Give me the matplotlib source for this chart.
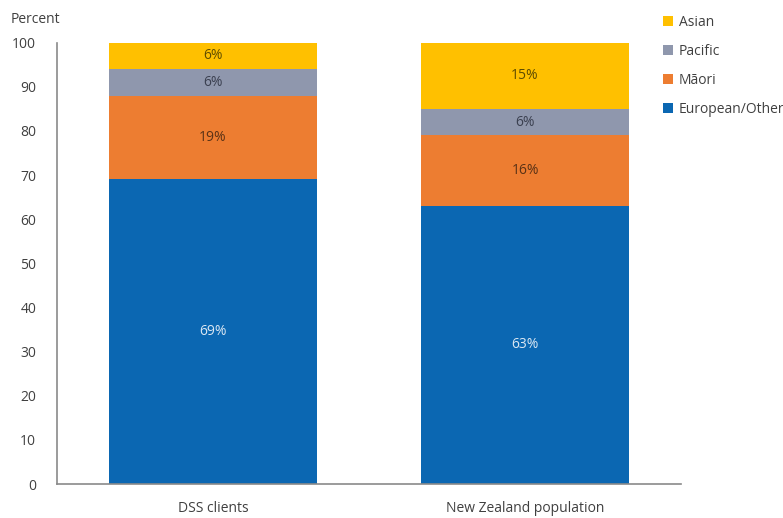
import matplotlib.pyplot as plt
import numpy as np

plt.rcParams['font.family'] = ['Open Sans', 'DejaVu Sans']

# data
categories = ['DSS clients', 'New Zealand population']
groups = ['European/Other', 'Māori', 'Pacific', 'Asian']
european = [69, 63]
maori = [19, 16]
pacific = [6, 6]
asian = [6, 15]

colors = ['#0B67B2', '#ED7D31', '#8F97AD', '#FFC000']
label_colors = ['#dbe7f3', '#5a3216', '#3b4050', '#5e4c00']

fig = plt.figure(figsize=(7.83, 5.18), dpi=100)
ax = fig.add_axes([0.0728, 0.0656, 0.797, 0.852])

x = np.arange(len(categories))
series = [european, maori, pacific, asian]
bottom = np.zeros(len(categories))
handles = []
for vals, name, c, lc in zip(series, groups, colors, label_colors):
    vals = np.array(vals, dtype=float)
    bars = ax.bar(x, vals, width=0.665, bottom=bottom, color=c, label=name)
    handles.append(bars)
    for xi, b, v in zip(x, bottom, vals):
        ax.text(xi, b + v/2, f'{int(v)}%', ha='center', va='center',
                fontsize=10, color=lc)
    bottom += vals

ax.set_xlim(-0.5, 1.5)
ax.set_ylim(0, 100)
ax.set_yticks(np.arange(0, 101, 10))
ax.set_xticks(x)
ax.set_xticklabels(categories)
ax.tick_params(axis='both', length=0, labelsize=10, colors='#404040')
ax.tick_params(axis='x', pad=12)
ax.tick_params(axis='y', pad=15)

for s in ['top', 'right']:
    ax.spines[s].set_visible(False)
for s in ['left', 'bottom']:
    ax.spines[s].set_color('#8a8a8a')
    ax.spines[s].set_linewidth(1.2)

fig.text(0.014, 0.962, 'Percent', fontsize=10, color='#404040', va='center')

leg = fig.legend(handles[::-1], groups[::-1], loc='upper left',
                 bbox_to_anchor=(0.84, 0.982), frameon=False,
                 fontsize=10, handlelength=0.7, handleheight=0.7,
                 handletextpad=0.4, labelspacing=1.0, borderaxespad=0)
for t in leg.get_texts():
    t.set_color('#404040')

fig.savefig('out.png', dpi=100)
